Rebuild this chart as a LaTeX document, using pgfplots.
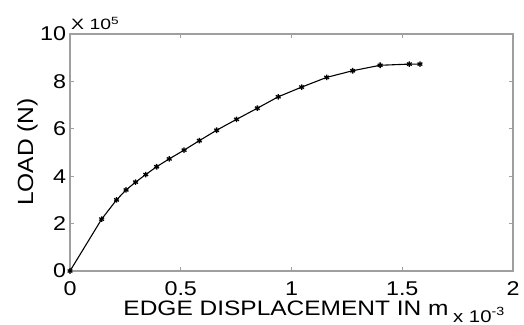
\documentclass[border=0pt]{standalone}
\usepackage{pgfplots}
\pgfplotsset{compat=1.18}
\usepackage{graphicx}
\usepackage{fontspec}
\setmainfont{Liberation Sans}
\newcommand{\W}[1]{\scalebox{1.17}[1]{#1}}
\begin{document}
\begin{tikzpicture}[x=1bp,y=1bp]
\begin{axis}[
  at={(0,0)}, anchor=origin,
  scale only axis, width=443bp, height=237bp,
  xmin=0, xmax=2, ymin=0, ymax=10,
  xtick={0,0.5,1,1.5,2}, ytick={0,2,4,6,8,10},
  xticklabels={\W{0},\W{0.5},\W{1},\W{1.5},\W{2}},
  yticklabels={\W{0},\W{2},\W{4},\W{6},\W{8},\W{10}},
  tick align=inside, major tick length=4bp,
  axis line style={gray!75, line width=1.1pt},
  every tick/.style={gray!75, line width=0.7pt},
  tick label style={font=\fontsize{20}{20}\selectfont, inner sep=1bp},
  /pgf/number format/assume math mode=true,
  xticklabel style={yshift=-9.5bp},
  yticklabel style={xshift=-2.7bp},
  clip=false,
]
\addplot[black, line width=1.1pt, mark=asterisk, mark size=2.8pt, mark options={line width=1.3pt}] coordinates {
 (0,0) (0.143,2.19) (0.21,3.0) (0.253,3.42) (0.296,3.75) (0.342,4.07)
 (0.391,4.40) (0.448,4.73) (0.515,5.10) (0.584,5.50) (0.662,5.94)
 (0.752,6.40) (0.846,6.87) (0.94,7.35) (1.046,7.76) (1.159,8.17)
 (1.276,8.45) (1.40,8.68) (1.532,8.73) (1.58,8.73)
};
\end{axis}
\node[font=\fontsize{15}{15}\selectfont, anchor=base west, inner sep=0] at (1bp,241bp) {\scalebox{1.3}[1]{X 10\textsuperscript{5}}};
\node[font=\fontsize{22}{22}\selectfont, anchor=base, rotate=90, inner sep=0] at (-37bp,119bp) {\scalebox{1.12}[1]{LOAD (N)}};
\node[font=\fontsize{21}{21}\selectfont, anchor=base, inner sep=0] at (216bp,-44bp) {\W{EDGE DISPLACEMENT IN m}};
\node[font=\fontsize{17}{17}\selectfont, anchor=base west, inner sep=0] at (383bp,-51bp) {\scalebox{1.2}[1]{x 10\textsuperscript{-3}}};
\path[use as bounding box] (-70bp,-54bp) rectangle (454bp,271bp);
\end{tikzpicture}
\end{document}
